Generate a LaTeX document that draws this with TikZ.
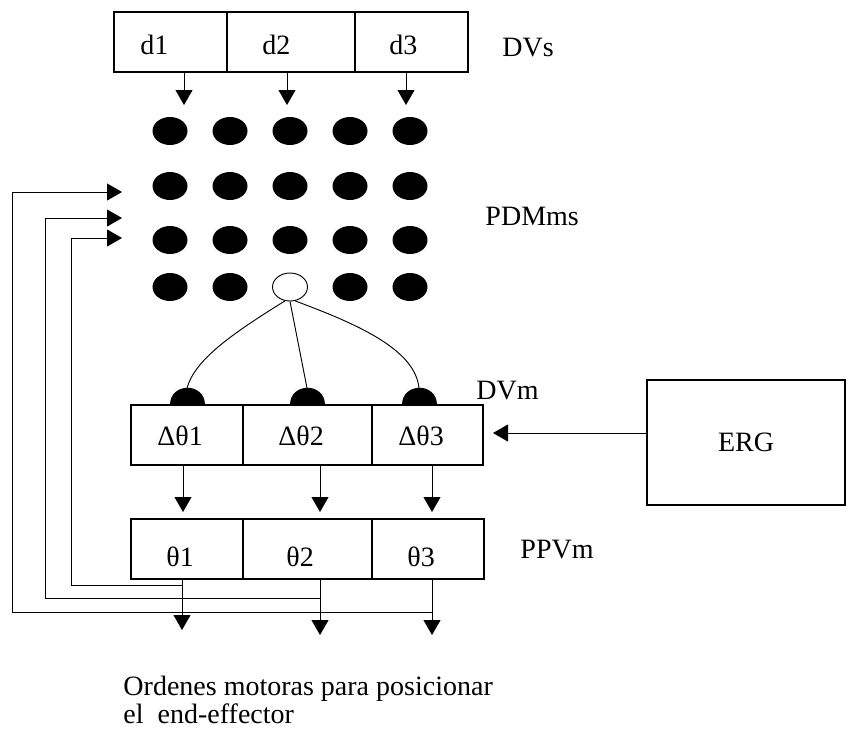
\documentclass[tikz,border=0pt]{standalone}
\usepackage{fontspec}
\setmainfont{Liberation Serif}
\usetikzlibrary{arrows.meta,shapes.geometric}

\begin{document}
\begin{tikzpicture}[x=0.03cm,y=-0.03cm,line width=0.8pt,
  cell/.style={draw,rectangle,inner sep=0pt,outer sep=0pt,line width=0.9pt,minimum height=1.8cm},
  lbl/.style={anchor=base west,inner sep=0pt,font=\fontsize{23.9}{28.6}\selectfont},
  arr/.style={-{Triangle[width=14.5pt,length=12.8pt]}},
  dot/.style={ellipse,fill,inner sep=0pt,minimum width=1.05cm,minimum height=0.84cm}]
\useasboundingbox (0,0) rectangle (848,730);
% DVs
\node[cell,minimum width=3.39cm] (d1) at (170.5,42) {};
\node[cell,minimum width=3.84cm] (d2) at (291,42) {};
\node[cell,minimum width=3.39cm] (d3) at (411.5,42) {};
\node[lbl] (d1txt) at (140,55) {d1};
\node[lbl] (d2txt) at (262,55) {d2};
\node[lbl] (d3txt) at (389,55) {d3};
\node[lbl] (dvs) at (502,56) {DVs};
\coordinate (a1) at (184,105);
\coordinate (a2) at (287,105);
\coordinate (a3) at (406,105);
\draw[arr] (d1.south -| a1) -- (a1);
\draw[arr] (d2.south -| a2) -- (a2);
\draw[arr] (d3.south -| a3) -- (a3);
% PDMms
\foreach \r/\y in {1/131,2/186,3/240}
  \foreach \c/\x in {1/170,2/230,3/290,4/350,5/410}
    \node[dot] (p\r\c) at (\x,\y) {};
\foreach \c/\x in {1/170,2/230,4/350,5/410}
  \node[dot] (p4\c) at (\x,287) {};
\node[ellipse,draw,inner sep=0pt,minimum width=1.05cm,minimum height=0.84cm] (hub) at (290,287) {};
\node[lbl] (pdm) at (485,225) {PDMms};
% DVm
\foreach \i/\x in {1/187,2/307,3/419}{
  \fill (\x-17.5,405) .. controls (\x-17.5,382.3) and (\x+17.5,382.3) .. (\x+17.5,405) -- cycle;
  \coordinate (m\i) at (\x,388);
}
\draw (hub.250) .. controls (230,335) and (195,360) .. (m1);
\draw (hub.south) -- (m2);
\draw (hub.290) .. controls (360,325) and (415,350) .. (m3);
\node[cell,minimum width=3.36cm] (v1) at (187,435) {};
\node[cell,minimum width=3.87cm] (v2) at (307.5,435) {};
\node[cell,minimum width=3.33cm] (v3) at (427.5,435) {};
\node[lbl] (v1txt) at (157,445) {Δθ1};
\node[lbl] (v2txt) at (278,445) {Δθ2};
\node[lbl] (v3txt) at (398,445) {Δθ3};
\node[lbl] (dvm) at (476,399) {DVm};
% ERG
\node[cell,minimum width=5.94cm,minimum height=3.75cm,font=\fontsize{23.9}{28.6}\selectfont] (erg) at (746,442.5) {ERG};
\coordinate (e) at (493,433);
\draw[arr] (erg.west |- e) -- (e);
% PPVm
\coordinate (b1) at (183,512);
\coordinate (b2) at (320,512);
\coordinate (b3) at (432,512);
\draw[arr] (v1.south -| b1) -- (b1);
\draw[arr] (v2.south -| b2) -- (b2);
\draw[arr] (v3.south -| b3) -- (b3);
\node[cell,minimum width=3.36cm] (t1) at (187,549) {};
\node[cell,minimum width=3.87cm] (t2) at (307.5,549) {};
\node[cell,minimum width=3.36cm] (t3) at (428,549) {};
\node[lbl] (t1txt) at (166,566) {θ1};
\node[lbl] (t2txt) at (286,566) {θ2};
\node[lbl] (t3txt) at (407,566) {θ3};
\node[lbl] (ppv) at (520,558) {PPVm};
% salidas y realimentacion
\coordinate (o1) at (182,630);
\coordinate (o2) at (320,635);
\coordinate (o3) at (432,635);
\draw[arr] (t1.south -| o1) -- (o1);
\draw[arr] (t2.south -| o2) -- (o2);
\draw[arr] (t3.south -| o3) -- (o3);
\coordinate (f1) at (122,238);
\coordinate (f2) at (122,218);
\coordinate (f3) at (122,192);
\draw[arr] (182,585) -- (71,585) |- (f1);
\draw[arr] (320,598) -- (45,598) |- (f2);
\draw[arr] (432,612) -- (12,612) |- (f3);
\node[lbl] (ord1) at (123,695) {Ordenes motoras para posicionar};
\node[lbl] (ord2) at (123,723) {el\ \ end-effector};
\end{tikzpicture}
\end{document}
